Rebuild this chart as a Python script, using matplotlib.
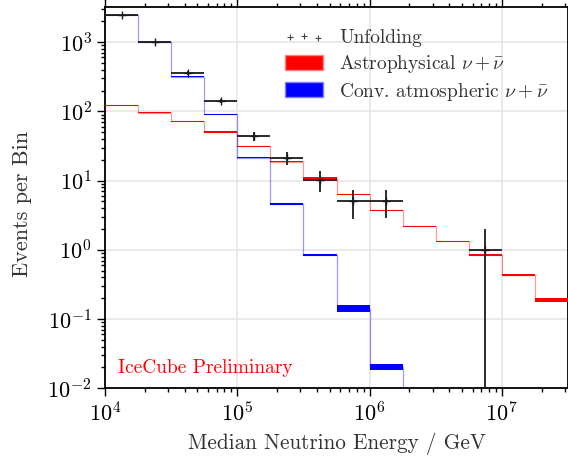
import numpy as np
import matplotlib
matplotlib.use("Agg")
import matplotlib.pyplot as plt
from matplotlib.patches import Patch

plt.rcParams['font.family'] = 'serif'
plt.rcParams['font.serif'] = ['cmr10']
plt.rcParams['mathtext.fontset'] = 'cm'
plt.rcParams['axes.formatter.use_mathtext'] = True
plt.rcParams['axes.unicode_minus'] = False

# bin edges in log10(E / GeV)
log_edges = np.linspace(4.0, 7.5, 15)

# astrophysical component: central value and band
astro = [122, 95.7, 71.8, 50.4, 31.3, 18.8, 10.9, 6.34, 3.72, 2.19, 1.33, 0.845, 0.435, 0.187]
astro_hi = [124, 97.5, 73.2, 51.4, 31.9, 19.2, 11.1, 6.46, 3.79, 2.23, 1.36, 0.873, 0.455, 0.200]
astro_lo = [120, 94.0, 70.4, 49.4, 30.7, 18.4, 10.7, 6.22, 3.65, 2.15, 1.30, 0.817, 0.416, 0.175]

# conventional atmospheric component
conv = [2450, 990, 316, 90.6, 21.5, 4.62, 0.855, 0.142, 0.0204, 0.004, 0.001, 3e-4, 1e-4, 3e-5]
conv_hi = [2500, 1010, 322, 92.4, 21.9, 4.82, 0.885, 0.159, 0.0222, 0.004, 0.001, 3e-4, 1e-4, 3e-5]
conv_lo = [2400, 970, 310, 88.8, 21.1, 4.40, 0.821, 0.127, 0.0186, 0.004, 0.001, 3e-4, 1e-4, 3e-5]

# unfolded spectrum (bin index, value, lower, upper)
unf_bin = [0, 1, 2, 3, 4, 5, 6, 7, 8, 11]
unf_val = [2480, 1000, 362, 141, 44.0, 21.0, 10.2, 5.08, 5.08, 1.0]
unf_lo = [2400, 970, 340, 132, 37.3, 16.8, 6.93, 2.83, 2.86, 1e-3]
unf_hi = [2560, 1030, 385, 150, 50.4, 25.9, 13.6, 7.41, 7.40, 2.03]

edges = 10 ** log_edges
centers = 10 ** ((log_edges[:-1] + log_edges[1:]) / 2)

fig = plt.figure(figsize=(5.68, 4.61), dpi=100)
ax = fig.add_axes([105 / 568, 1 - 388.3 / 461, 463 / 568, 380.8 / 461])

def draw_component(val, lo, hi, color):
    v = np.append(val, val[-1])
    ax.step(edges, v, where='post', color=color, alpha=0.4, lw=0.9, zorder=3)
    ax.fill_between(edges, np.append(lo, lo[-1]), np.append(hi, hi[-1]),
                    step='post', color=color, lw=0, zorder=3)

draw_component(astro, astro_lo, astro_hi, '#ff0000')
draw_component(conv, conv_lo, conv_hi, '#0000ff')

ub = np.array(unf_bin)
uv = np.array(unf_val)
xc = centers[ub]
xerr = [xc - edges[ub], edges[ub + 1] - xc]
yerr = [uv - np.array(unf_lo), np.array(unf_hi) - uv]
ax.errorbar(xc, uv, xerr=xerr, yerr=yerr, fmt='none', ecolor='#1a1a1a',
            elinewidth=1.3, capsize=0, zorder=4)
unf_sc = ax.scatter(xc, uv, marker='+', s=30, color='#1a1a1a', lw=1.0, zorder=4)

ax.set_xscale('log')
ax.set_yscale('log')
ax.set_xlim(1e4, 10 ** 7.5)
ax.set_ylim(1e-2, 10 ** 3.5)
ax.grid(True, which='major', color='#e6e6e6', lw=1.2, zorder=0)
ax.set_axisbelow(True)
ax.tick_params(which='both', direction='out', top=True, right=True, labelsize=16, width=1.0)
ax.tick_params(which='major', length=6)
ax.tick_params(which='minor', length=3)
for s in ax.spines.values():
    s.set_linewidth(1.3)

ax.set_xlabel('Median Neutrino Energy / GeV', fontsize=15.3, color='#333333', labelpad=5)
ax.set_ylabel('Events per Bin', fontsize=16, color='#333333')
ax.yaxis.set_label_coords(-0.158, 0.485)

ax.text(0.028, 0.053, 'IceCube Preliminary', color='#ff0000', fontsize=14,
        transform=ax.transAxes, va='center')

handles = [unf_sc,
           Patch(facecolor='#ff0000', edgecolor='#ff8080', lw=1),
           Patch(facecolor='#0000ff', edgecolor='#8080ff', lw=1)]
labels = ['Unfolding', r'Astrophysical $\nu + \bar{\nu}$', r'Conv. atmospheric $\nu + \bar{\nu}$']
leg = ax.legend(handles, labels, loc='upper left', bbox_to_anchor=(0.35, 0.99),
                frameon=False, fontsize=14, handlelength=2.0, handleheight=0.8,
                handletextpad=0.8, labelspacing=0.3, scatterpoints=3)
for t in leg.get_texts():
    t.set_color('#333333')
leg.legend_handles[0].set_sizes([22])
leg.legend_handles[0].set_linewidth(0.8)
leg.legend_handles[0].set_color('#444444')

fig.savefig('out.png', dpi=100)
